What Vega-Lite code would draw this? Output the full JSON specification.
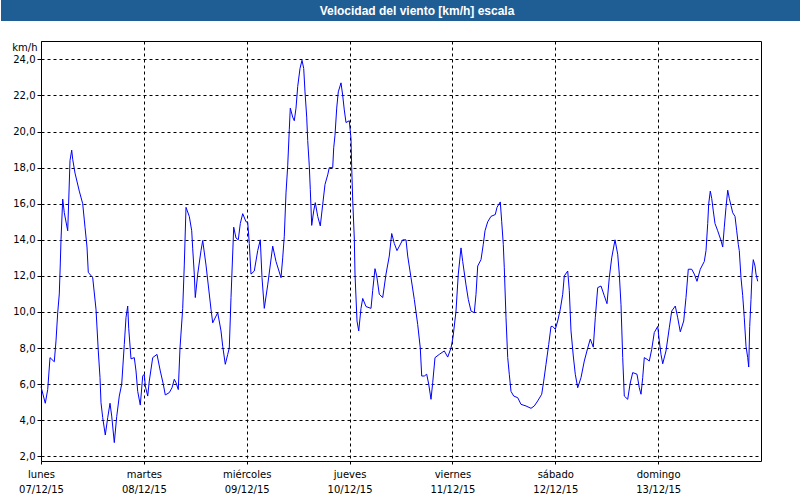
{
"$schema": "https://vega.github.io/schema/vega-lite/v6.json",
"background": "white",
"padding": 0,
"spacing": 19,
"vconcat": [
{
"width": 760, "height": 21,
"view": {"fill": "#1F5E95", "stroke": null},
"data": {"values": [{"fila": "barra", "titulo": "Velocidad del viento [km/h] escala"}]},
"mark": {"type": "text", "color": "white", "font": "Liberation Sans", "fontWeight": "bold", "fontSize": 12, "dx": -4, "baseline": "middle"},
"encoding": {
"y": {"field": "fila", "type": "nominal", "axis": {"labels": false, "ticks": false, "title": null, "grid": false, "domainColor": "#1F5E95", "domainWidth": 80, "domainCap": "butt", "translate": 0, "minExtent": 0}},
"text": {"field": "titulo"}}
},
{
"width": 720, "height": 420,
"view": {"stroke": "black", "strokeWidth": 1},
"data": {"values": [
{"t":"2015-12-07T00:00Z","v":5.86},{"t":"2015-12-07T01:00Z","v":4.94},{"t":"2015-12-07T01:34Z","v":5.7},{"t":"2015-12-07T02:06Z","v":7.47},{"t":"2015-12-07T03:06Z","v":7.24},{"t":"2015-12-07T03:30Z","v":8.4},{"t":"2015-12-07T03:54Z","v":9.96},{"t":"2015-12-07T04:16Z","v":11.0},{"t":"2015-12-07T04:30Z","v":12.66},{"t":"2015-12-07T04:40Z","v":14.0},{"t":"2015-12-07T05:04Z","v":16.26},{"t":"2015-12-07T05:26Z","v":15.5},{"t":"2015-12-07T06:14Z","v":14.5},{"t":"2015-12-07T06:28Z","v":16.15},{"t":"2015-12-07T06:46Z","v":18.4},{"t":"2015-12-07T07:10Z","v":18.97},{"t":"2015-12-07T07:24Z","v":18.46},{"t":"2015-12-07T07:56Z","v":17.7},{"t":"2015-12-07T08:56Z","v":16.7},{"t":"2015-12-07T09:44Z","v":16.0},{"t":"2015-12-07T10:16Z","v":14.7},{"t":"2015-12-07T10:44Z","v":13.6},{"t":"2015-12-07T11:02Z","v":12.2},{"t":"2015-12-07T12:04Z","v":11.9},{"t":"2015-12-07T12:50Z","v":10.15},{"t":"2015-12-07T13:22Z","v":7.84},{"t":"2015-12-07T13:46Z","v":6.36},{"t":"2015-12-07T14:00Z","v":4.97},{"t":"2015-12-07T14:24Z","v":4.14},{"t":"2015-12-07T15:00Z","v":3.18},{"t":"2015-12-07T15:34Z","v":4.14},{"t":"2015-12-07T16:06Z","v":4.94},{"t":"2015-12-07T16:30Z","v":4.23},{"t":"2015-12-07T17:06Z","v":2.76},{"t":"2015-12-07T17:40Z","v":4.2},{"t":"2015-12-07T18:16Z","v":5.34},{"t":"2015-12-07T18:50Z","v":6.0},{"t":"2015-12-07T19:26Z","v":8.2},{"t":"2015-12-07T19:50Z","v":9.7},{"t":"2015-12-07T20:14Z","v":10.33},{"t":"2015-12-07T20:28Z","v":9.1},{"t":"2015-12-07T21:00Z","v":7.4},{"t":"2015-12-07T21:46Z","v":7.47},{"t":"2015-12-07T22:10Z","v":6.73},{"t":"2015-12-07T22:34Z","v":5.6},{"t":"2015-12-07T23:10Z","v":4.84},{"t":"2015-12-07T23:44Z","v":6.45},
{"t":"2015-12-08T00:06Z","v":6.55},{"t":"2015-12-08T00:20Z","v":5.9},{"t":"2015-12-08T00:54Z","v":5.34},{"t":"2015-12-08T01:16Z","v":6.17},{"t":"2015-12-08T02:04Z","v":7.47},{"t":"2015-12-08T03:04Z","v":7.65},{"t":"2015-12-08T03:50Z","v":6.73},{"t":"2015-12-08T04:32Z","v":6.0},{"t":"2015-12-08T05:00Z","v":5.4},{"t":"2015-12-08T05:56Z","v":5.53},{"t":"2015-12-08T06:34Z","v":5.8},{"t":"2015-12-08T07:06Z","v":6.27},{"t":"2015-12-08T07:30Z","v":6.08},{"t":"2015-12-08T08:02Z","v":5.7},{"t":"2015-12-08T08:26Z","v":8.0},{"t":"2015-12-08T09:04Z","v":10.2},{"t":"2015-12-08T09:26Z","v":12.6},{"t":"2015-12-08T09:50Z","v":15.8},{"t":"2015-12-08T10:36Z","v":15.3},{"t":"2015-12-08T11:10Z","v":14.5},{"t":"2015-12-08T11:24Z","v":13.5},{"t":"2015-12-08T11:46Z","v":12.1},{"t":"2015-12-08T12:00Z","v":10.8},{"t":"2015-12-08T12:34Z","v":12.1},{"t":"2015-12-08T13:20Z","v":13.4},{"t":"2015-12-08T13:44Z","v":13.96},{"t":"2015-12-08T14:30Z","v":12.6},{"t":"2015-12-08T15:40Z","v":10.15},{"t":"2015-12-08T16:04Z","v":9.4},{"t":"2015-12-08T17:14Z","v":9.96},{"t":"2015-12-08T18:00Z","v":8.95},{"t":"2015-12-08T18:24Z","v":8.1},{"t":"2015-12-08T19:00Z","v":7.1},{"t":"2015-12-08T19:34Z","v":7.65},{"t":"2015-12-08T19:56Z","v":8.0},{"t":"2015-12-08T20:20Z","v":10.8},{"t":"2015-12-08T20:58Z","v":14.7},{"t":"2015-12-08T21:30Z","v":14.1},{"t":"2015-12-08T22:02Z","v":14.0},{"t":"2015-12-08T22:30Z","v":14.9},{"t":"2015-12-08T23:04Z","v":15.45},{"t":"2015-12-08T23:50Z","v":15.0},
{"t":"2015-12-09T00:14Z","v":14.97},{"t":"2015-12-09T00:36Z","v":13.8},{"t":"2015-12-09T01:00Z","v":12.1},{"t":"2015-12-09T01:46Z","v":12.27},{"t":"2015-12-09T02:34Z","v":13.4},{"t":"2015-12-09T03:10Z","v":14.0},{"t":"2015-12-09T03:34Z","v":11.9},{"t":"2015-12-09T04:06Z","v":10.2},{"t":"2015-12-09T04:54Z","v":11.5},{"t":"2015-12-09T06:04Z","v":13.65},{"t":"2015-12-09T06:50Z","v":12.8},{"t":"2015-12-09T08:00Z","v":11.9},{"t":"2015-12-09T08:24Z","v":13.0},{"t":"2015-12-09T08:46Z","v":14.2},{"t":"2015-12-09T09:10Z","v":16.6},{"t":"2015-12-09T09:34Z","v":18.1},{"t":"2015-12-09T09:56Z","v":20.1},{"t":"2015-12-09T10:10Z","v":21.3},{"t":"2015-12-09T10:44Z","v":20.8},{"t":"2015-12-09T11:06Z","v":20.6},{"t":"2015-12-09T11:30Z","v":21.3},{"t":"2015-12-09T11:54Z","v":22.5},{"t":"2015-12-09T12:26Z","v":23.5},{"t":"2015-12-09T12:54Z","v":23.95},{"t":"2015-12-09T13:18Z","v":23.5},{"t":"2015-12-09T13:36Z","v":22.2},{"t":"2015-12-09T14:00Z","v":20.8},{"t":"2015-12-09T14:14Z","v":19.5},{"t":"2015-12-09T14:36Z","v":18.1},{"t":"2015-12-09T14:50Z","v":16.8},{"t":"2015-12-09T15:10Z","v":14.8},{"t":"2015-12-09T15:38Z","v":15.6},{"t":"2015-12-09T16:00Z","v":16.06},{"t":"2015-12-09T16:34Z","v":15.3},{"t":"2015-12-09T17:10Z","v":14.77},{"t":"2015-12-09T17:44Z","v":15.96},{"t":"2015-12-09T18:16Z","v":17.07},{"t":"2015-12-09T18:54Z","v":17.6},{"t":"2015-12-09T19:16Z","v":18.0},{"t":"2015-12-09T20:04Z","v":18.0},{"t":"2015-12-09T20:18Z","v":19.1},{"t":"2015-12-09T20:36Z","v":19.8},{"t":"2015-12-09T21:00Z","v":21.3},{"t":"2015-12-09T21:22Z","v":22.2},{"t":"2015-12-09T22:00Z","v":22.7},{"t":"2015-12-09T22:24Z","v":22.0},{"t":"2015-12-09T22:46Z","v":21.2},{"t":"2015-12-09T23:10Z","v":20.5},{"t":"2015-12-09T23:56Z","v":20.6},
{"t":"2015-12-10T00:20Z","v":19.6},{"t":"2015-12-10T00:30Z","v":18.0},{"t":"2015-12-10T00:44Z","v":16.2},{"t":"2015-12-10T01:06Z","v":14.1},{"t":"2015-12-10T01:16Z","v":12.1},{"t":"2015-12-10T01:44Z","v":9.5},{"t":"2015-12-10T02:08Z","v":8.95},{"t":"2015-12-10T02:40Z","v":10.2},{"t":"2015-12-10T03:04Z","v":10.75},{"t":"2015-12-10T03:50Z","v":10.3},{"t":"2015-12-10T05:00Z","v":10.2},{"t":"2015-12-10T05:24Z","v":11.2},{"t":"2015-12-10T05:56Z","v":12.4},{"t":"2015-12-10T06:20Z","v":12.0},{"t":"2015-12-10T06:56Z","v":10.98},{"t":"2015-12-10T07:44Z","v":10.8},{"t":"2015-12-10T08:30Z","v":12.1},{"t":"2015-12-10T09:16Z","v":13.1},{"t":"2015-12-10T09:50Z","v":14.35},{"t":"2015-12-10T10:26Z","v":13.8},{"t":"2015-12-10T11:04Z","v":13.4},{"t":"2015-12-10T12:24Z","v":14.0},{"t":"2015-12-10T13:10Z","v":14.0},{"t":"2015-12-10T13:34Z","v":13.1},{"t":"2015-12-10T14:20Z","v":11.9},{"t":"2015-12-10T15:06Z","v":10.7},{"t":"2015-12-10T15:54Z","v":9.3},{"t":"2015-12-10T16:30Z","v":8.0},{"t":"2015-12-10T16:50Z","v":6.45},{"t":"2015-12-10T17:26Z","v":6.45},{"t":"2015-12-10T18:00Z","v":6.55},{"t":"2015-12-10T18:28Z","v":6.0},{"t":"2015-12-10T19:00Z","v":5.16},{"t":"2015-12-10T19:24Z","v":6.08},{"t":"2015-12-10T19:56Z","v":7.47},{"t":"2015-12-10T20:56Z","v":7.65},{"t":"2015-12-10T22:06Z","v":7.84},{"t":"2015-12-10T22:54Z","v":7.5},{"t":"2015-12-10T23:40Z","v":8.0},
{"t":"2015-12-11T00:08Z","v":8.6},{"t":"2015-12-11T00:50Z","v":10.05},{"t":"2015-12-11T01:22Z","v":12.1},{"t":"2015-12-11T02:00Z","v":13.55},{"t":"2015-12-11T02:24Z","v":12.8},{"t":"2015-12-11T03:10Z","v":11.5},{"t":"2015-12-11T03:42Z","v":10.7},{"t":"2015-12-11T04:20Z","v":10.05},{"t":"2015-12-11T05:06Z","v":9.96},{"t":"2015-12-11T05:30Z","v":10.98},{"t":"2015-12-11T05:54Z","v":12.55},{"t":"2015-12-11T06:40Z","v":12.9},{"t":"2015-12-11T07:12Z","v":13.75},{"t":"2015-12-11T07:36Z","v":14.5},{"t":"2015-12-11T08:14Z","v":15.0},{"t":"2015-12-11T09:00Z","v":15.3},{"t":"2015-12-11T10:00Z","v":15.4},{"t":"2015-12-11T10:24Z","v":15.8},{"t":"2015-12-11T11:10Z","v":16.1},{"t":"2015-12-11T11:30Z","v":15.0},{"t":"2015-12-11T11:52Z","v":13.75},{"t":"2015-12-11T12:06Z","v":12.45},{"t":"2015-12-11T12:30Z","v":9.68},{"t":"2015-12-11T12:54Z","v":7.47},{"t":"2015-12-11T13:16Z","v":6.55},{"t":"2015-12-11T13:40Z","v":5.6},{"t":"2015-12-11T14:18Z","v":5.34},{"t":"2015-12-11T15:14Z","v":5.25},{"t":"2015-12-11T16:00Z","v":4.88},{"t":"2015-12-11T17:10Z","v":4.79},{"t":"2015-12-11T18:20Z","v":4.66},{"t":"2015-12-11T19:06Z","v":4.79},{"t":"2015-12-11T19:54Z","v":5.07},{"t":"2015-12-11T20:50Z","v":5.44},{"t":"2015-12-11T21:18Z","v":6.17},{"t":"2015-12-11T21:50Z","v":7.1},{"t":"2015-12-11T22:28Z","v":8.2},{"t":"2015-12-11T23:00Z","v":9.2},{"t":"2015-12-11T23:24Z","v":9.2},
{"t":"2015-12-12T00:00Z","v":9.04},{"t":"2015-12-12T00:34Z","v":9.5},{"t":"2015-12-12T01:10Z","v":10.15},{"t":"2015-12-12T01:44Z","v":10.98},{"t":"2015-12-12T02:06Z","v":12.0},{"t":"2015-12-12T02:54Z","v":12.27},{"t":"2015-12-12T03:16Z","v":11.2},{"t":"2015-12-12T03:40Z","v":8.95},{"t":"2015-12-12T04:12Z","v":7.56},{"t":"2015-12-12T04:40Z","v":6.55},{"t":"2015-12-12T05:14Z","v":5.8},{"t":"2015-12-12T06:00Z","v":6.36},{"t":"2015-12-12T06:46Z","v":7.28},{"t":"2015-12-12T07:34Z","v":8.0},{"t":"2015-12-12T08:10Z","v":8.5},{"t":"2015-12-12T08:52Z","v":8.05},{"t":"2015-12-12T09:20Z","v":9.68},{"t":"2015-12-12T09:54Z","v":11.35},{"t":"2015-12-12T10:40Z","v":11.44},{"t":"2015-12-12T11:26Z","v":10.9},{"t":"2015-12-12T12:04Z","v":10.46},{"t":"2015-12-12T12:36Z","v":11.9},{"t":"2015-12-12T13:10Z","v":13.0},{"t":"2015-12-12T13:56Z","v":14.0},{"t":"2015-12-12T14:34Z","v":13.2},{"t":"2015-12-12T14:56Z","v":12.1},{"t":"2015-12-12T15:20Z","v":10.4},{"t":"2015-12-12T15:44Z","v":7.47},{"t":"2015-12-12T16:06Z","v":5.34},{"t":"2015-12-12T16:54Z","v":5.16},{"t":"2015-12-12T17:26Z","v":6.0},{"t":"2015-12-12T18:04Z","v":6.64},{"t":"2015-12-12T19:04Z","v":6.55},{"t":"2015-12-12T19:36Z","v":5.8},{"t":"2015-12-12T20:00Z","v":5.44},{"t":"2015-12-12T20:24Z","v":6.36},{"t":"2015-12-12T20:46Z","v":7.47},{"t":"2015-12-12T21:24Z","v":7.38},{"t":"2015-12-12T21:56Z","v":7.28},{"t":"2015-12-12T22:30Z","v":7.93},{"t":"2015-12-12T23:06Z","v":8.86},{"t":"2015-12-12T23:54Z","v":9.2},
{"t":"2015-12-13T00:16Z","v":8.4},{"t":"2015-12-13T00:40Z","v":7.65},{"t":"2015-12-13T01:04Z","v":7.13},{"t":"2015-12-13T01:50Z","v":7.84},{"t":"2015-12-13T02:36Z","v":9.12},{"t":"2015-12-13T03:10Z","v":10.05},{"t":"2015-12-13T04:00Z","v":10.33},{"t":"2015-12-13T04:34Z","v":9.68},{"t":"2015-12-13T05:10Z","v":8.9},{"t":"2015-12-13T05:58Z","v":9.5},{"t":"2015-12-13T06:30Z","v":10.8},{"t":"2015-12-13T07:02Z","v":12.37},{"t":"2015-12-13T07:50Z","v":12.37},{"t":"2015-12-13T08:26Z","v":12.1},{"t":"2015-12-13T09:04Z","v":11.7},{"t":"2015-12-13T09:50Z","v":12.37},{"t":"2015-12-13T10:46Z","v":12.8},{"t":"2015-12-13T11:10Z","v":13.4},{"t":"2015-12-13T11:34Z","v":14.9},{"t":"2015-12-13T11:48Z","v":16.0},{"t":"2015-12-13T12:10Z","v":16.7},{"t":"2015-12-13T12:30Z","v":16.3},{"t":"2015-12-13T12:52Z","v":15.6},{"t":"2015-12-13T13:16Z","v":14.9},{"t":"2015-12-13T13:54Z","v":14.5},{"t":"2015-12-13T14:40Z","v":13.96},{"t":"2015-12-13T15:04Z","v":13.6},{"t":"2015-12-13T15:26Z","v":14.7},{"t":"2015-12-13T15:50Z","v":15.8},{"t":"2015-12-13T16:14Z","v":16.75},{"t":"2015-12-13T16:36Z","v":16.3},{"t":"2015-12-13T17:00Z","v":15.9},{"t":"2015-12-13T17:24Z","v":15.5},{"t":"2015-12-13T17:56Z","v":15.3},{"t":"2015-12-13T18:20Z","v":14.5},{"t":"2015-12-13T18:42Z","v":13.75},{"t":"2015-12-13T18:56Z","v":13.4},{"t":"2015-12-13T19:20Z","v":11.9},{"t":"2015-12-13T19:44Z","v":10.9},{"t":"2015-12-13T20:06Z","v":9.68},{"t":"2015-12-13T20:30Z","v":8.1},{"t":"2015-12-13T20:54Z","v":7.47},{"t":"2015-12-13T21:08Z","v":6.95},{"t":"2015-12-13T21:22Z","v":9.2},{"t":"2015-12-13T21:40Z","v":10.7},{"t":"2015-12-13T21:54Z","v":12.1},{"t":"2015-12-13T22:12Z","v":12.9},{"t":"2015-12-13T22:36Z","v":12.55},{"t":"2015-12-13T22:50Z","v":12.1},{"t":"2015-12-13T23:14Z","v":11.7}
]},
"mark": {"type": "line", "color": "#0000FF", "strokeWidth": 1},
"encoding": {
"x": {"field": "t", "type": "temporal",
"scale": {"type": "utc", "domain": [{"year":2015,"month":12,"date":7,"utc":true},{"year":2015,"month":12,"date":14,"utc":true}]},
"axis": {"title": null,
"values": [{"year":2015,"month":12,"date":7,"utc":true},{"year":2015,"month":12,"date":8,"utc":true},{"year":2015,"month":12,"date":9,"utc":true},{"year":2015,"month":12,"date":10,"utc":true},{"year":2015,"month":12,"date":11,"utc":true},{"year":2015,"month":12,"date":12,"utc":true},{"year":2015,"month":12,"date":13,"utc":true}],
"labelExpr": "[['domingo','lunes','martes','miércoles','jueves','viernes','sábado'][utcday(datum.value)], utcFormat(datum.value, '%d/%m/%y')]",
"labelFont": "DejaVu Sans", "labelFontSize": 10, "labelColor": "black", "labelLineHeight": 15, "labelPadding": 5,
"labelOverlap": false, "labelFlush": false, "labelBound": false,
"tickSize": 3, "tickColor": "black", "domain": false,
"grid": true, "gridColor": "black", "gridDash": [3,3], "gridOpacity": 1, "gridWidth": 1}},
"y": {"field": "v", "type": "quantitative",
"scale": {"domain": [1.74, 25.02], "nice": false, "zero": false},
"axis": {"values": [2,4,6,8,10,12,14,16,18,20,22,24],
"labelExpr": "replace(format(datum.value, '.1f'), '.', ',')",
"labelFont": "DejaVu Sans", "labelFontSize": 10, "labelColor": "black", "labelPadding": 2,
"tickSize": 4, "tickColor": "black", "domain": false, "minExtent": 40, "maxExtent": 40,
"grid": true, "gridColor": "black", "gridDash": [3,3], "gridOpacity": 1, "gridWidth": 1,
"title": "km/h", "titleAngle": 0, "titleAlign": "right", "titleBaseline": "middle", "titleX": -4, "titleY": 6,
"titleFont": "DejaVu Sans", "titleFontSize": 10, "titleFontWeight": "normal", "titleColor": "black"}}
}
}
]
}
